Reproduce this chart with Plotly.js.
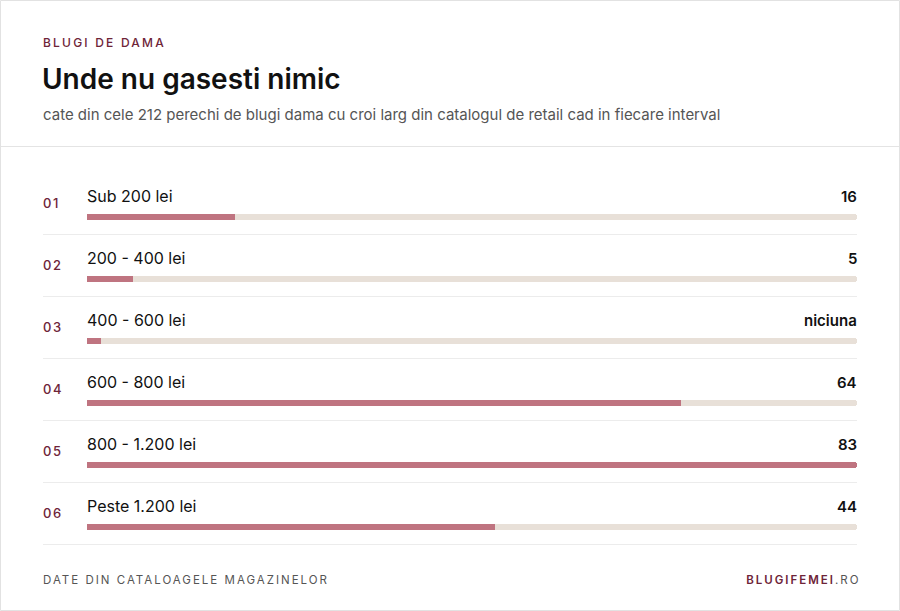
<!DOCTYPE html>
<html>
<head>
<meta charset="utf-8">
<script src="https://cdn.plot.ly/plotly-3.0.1.min.js"></script>
<style>
  html, body { margin: 0; padding: 0; background: #ffffff; }
  #chart { width: 900px; height: 611px; }
</style>
</head>
<body>
<div id="chart"></div>
<script>
// ---- data ----
const categories = ["Sub 200 lei", "200 - 400 lei", "400 - 600 lei", "600 - 800 lei", "800 - 1.200 lei", "Peste 1.200 lei"];
const counts = [16, 5, 0, 64, 83, 44];
const rankLabels = ["01", "02", "03", "04", "05", "06"];
const valueLabels = ["16", "5", "niciuna", "64", "83", "44"];
const totalPairs = 212;

// ---- layout geometry (pixels) ----
const W = 900, H = 611;
const L = 87, R = 857, T = 186, B = 558;
const rowH = (B - T) / categories.length;
const xp = px => (px - L) / (R - L);
const yp = py => (B - py) / (B - T);

const maxV = Math.max(...counts);
const rows = categories.map((_, i) => i);
const shown = counts.map(v => Math.max(v, maxV * 0.018));

const fontFam = "Inter, 'Noto Sans', sans-serif";
const maroon = "#6e2438";
const barW = 6.5 / rowH;

const traces = [
  {
    type: "bar", orientation: "h",
    x: categories.map(() => maxV), y: rows,
    width: barW,
    marker: { color: "#e8e0d8", cornerradius: 4 },
    hoverinfo: "skip", showlegend: false
  },
  {
    type: "bar", orientation: "h",
    x: shown, y: rows,
    width: barW,
    marker: { color: "#bf7480", cornerradius: 4 },
    customdata: counts,
    hovertemplate: "%{customdata}<extra></extra>",
    showlegend: false
  }
];

const annotations = [];
const shapes = [];
const spacing = {}; // annotation index -> letter spacing px

function ann(o, ls) {
  annotations.push(Object.assign({ showarrow: false, borderpad: 0, borderwidth: 0 }, o));
  if (ls) spacing[annotations.length - 1] = ls;
}

// card border
shapes.push({ type: "rect", xref: "paper", yref: "paper", layer: "below",
  x0: xp(0.5), x1: xp(899.5), y0: yp(0.5), y1: yp(610.5),
  line: { color: "#e2e2e2", width: 1 }, fillcolor: "rgba(0,0,0,0)" });
// header divider
shapes.push({ type: "line", xref: "paper", yref: "paper", layer: "below",
  x0: xp(1), x1: xp(899), y0: yp(146.5), y1: yp(146.5),
  line: { color: "#e4e4e4", width: 1 } });

// header texts
ann({ xref: "paper", yref: "paper", x: xp(43), y: yp(43), xanchor: "left", yanchor: "middle", align: "left",
  text: "BLUGI DE DAMA", font: { family: fontFam, size: 12, color: maroon, weight: 500 } }, 2.2);
ann({ xref: "paper", yref: "paper", x: xp(42), y: yp(79), xanchor: "left", yanchor: "middle", align: "left",
  text: "Unde nu gasesti nimic", font: { family: fontFam, size: 28, color: "#111111", weight: 600 } });
ann({ xref: "paper", yref: "paper", x: xp(43), y: yp(114.5), xanchor: "left", yanchor: "middle", align: "left",
  text: "cate din cele " + totalPairs + " perechi de blugi dama cu croi larg din catalogul de retail cad in fiecare interval",
  font: { family: fontFam, size: 15, color: "#555555" } });

// rows
categories.forEach((c, i) => {
  ann({ xref: "paper", yref: "y", x: 0, y: i - 21 / rowH, xanchor: "left", yanchor: "middle", align: "left",
    text: c, font: { family: fontFam, size: 16, color: "#111111", weight: 400 } });
  ann({ xref: "paper", yref: "y", x: 1, y: i - 21 / rowH, xanchor: "right", yanchor: "middle", align: "right",
    text: valueLabels[i], font: { family: fontFam, size: 15, color: "#111111", weight: 600 } });
  ann({ xref: "paper", yref: "y", x: xp(43), y: i - 14 / rowH, xanchor: "left", yanchor: "middle", align: "left",
    text: rankLabels[i], font: { family: fontFam, size: 13, color: maroon, weight: 500 } }, 1.6);
  shapes.push({ type: "line", xref: "paper", yref: "y", layer: "below",
    x0: xp(43), x1: 1, y0: i + 17.5 / rowH, y1: i + 17.5 / rowH,
    line: { color: "#ececec", width: 1 } });
});

// footer
ann({ xref: "paper", yref: "paper", x: xp(43), y: yp(580), xanchor: "left", yanchor: "middle", align: "left",
  text: "DATE DIN CATALOAGELE MAGAZINELOR", font: { family: fontFam, size: 11.5, color: "#555555" } }, 2.0);
ann({ xref: "paper", yref: "paper", x: xp(859), y: yp(580), xanchor: "right", yanchor: "middle", align: "right",
  text: "<span style='color:" + maroon + ";font-weight:600'>BLUGIFEMEI</span>.RO",
  font: { family: fontFam, size: 11.5, color: "#555555" } }, 2.0);

const layout = {
  width: W, height: H,
  margin: { l: L, r: W - R, t: T, b: H - B, pad: 0 },
  paper_bgcolor: "#ffffff", plot_bgcolor: "rgba(0,0,0,0)",
  barmode: "overlay", bargap: 0,
  xaxis: { range: [0, maxV], showgrid: false, zeroline: false, showticklabels: false, ticks: "", fixedrange: true },
  yaxis: { range: [categories.length - 0.5, -0.5], showgrid: false, zeroline: false, showticklabels: false, ticks: "", fixedrange: true },
  annotations: annotations,
  shapes: shapes,
  showlegend: false
};

Plotly.newPlot("chart", traces, layout, { displayModeBar: false, staticPlot: true }).then(gd => {
  gd.querySelectorAll("g.annotation").forEach(g => {
    const idx = +g.getAttribute("data-index");
    const ls = spacing[idx];
    if (!ls) return;
    const t = g.querySelector("text");
    if (!t) return;
    const before = t.getBBox();
    const a = annotations[idx];
    t.style.letterSpacing = ls + "px";
    const after = t.getBBox();
    // keep the anchored edge in place
    let dx = 0;
    if (a.xanchor === "left") dx = before.x - after.x;
    else if (a.xanchor === "right") dx = (before.x + before.width) - (after.x + after.width - ls);
    if (dx) t.setAttribute("transform", "translate(" + dx + ",0)");
  });
});
</script>
</body>
</html>
